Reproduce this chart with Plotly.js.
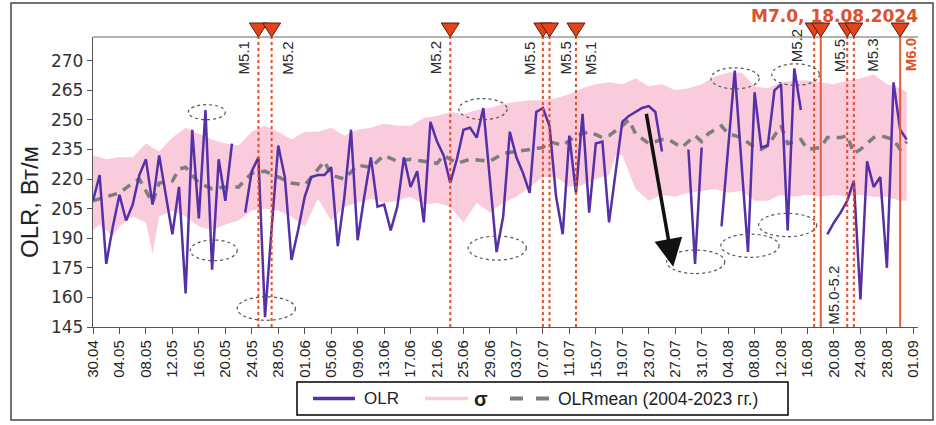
<!DOCTYPE html>
<html>
<head>
<meta charset="utf-8">
<script src="https://cdn.plot.ly/plotly-3.0.1.min.js"></script>
<style>html,body{margin:0;padding:0;background:#fff}#chart{width:936px;height:425px}</style>
</head>
<body>
<div id="chart"></div>
<script>
// ---------- DATA ----------
const tickLabels = ['30.04','04.05','08.05','12.05','16.05','20.05','24.05','28.05','01.06','05.06','09.06','13.06','17.06','21.06','25.06','29.06','03.07','07.07','11.07','15.07','19.07','23.07','27.07','31.07','04.08','08.08','12.08','16.08','20.08','24.08','28.08','01.09'];
const tickDays = [0,4,8,12,16,20,24,28,32,36,40,44,48,52,56,60,64,68,72,76,80,84,88,92,96,100,104,108,112,116,120,124];

// OLR daily values (day 0 = 30.04.2024); null = no data
const olrValues = [
 209,222,177,196,212,199,207,222,230,207,
 232,213,192,216,162,245,200,255,174,230,
 209,238,null,203,224,231,150,195,237,221,
 179,194,211,221,222,222,226,186,211,245,
 189,211,231,206,207,194,206,231,216,224,
 198,249,239,232,218,230,245,246,241,256,
 219,183,201,244,231,223,213,254,256,247,
 211,192,242,213,253,203,238,239,198,225,
 249,252,254,256,257,254,234,null,null,null,
 235,177,236,null,null,196,236,275,229,183,
 264,236,237,265,268,194,276,255,null,null,
 null,192,198,203,209,219,159,229,216,221,
 175,269,245,240];

// sigma band (upper / lower edges)
const sigmaUpperDays = [0,2,4,6,8,10,12,14,16,18,20,22,24,26,28,30,32,34,36,38,40,42,44,46,48,50,52,54,56,58,60,62,64,66,68,70,72,74,76,78,80,82,84,86,88,90,92,94,96,98,100,102,104,106,108,110,112,114,116,118,120,122,123];
const sigmaUpperValues = [232,230,231,231,238,234,241,246,243,240,238,237,244,247,244,240,244,244,246,242,245,246,248,247,247,251,252,254,253,255,256,258,259,260,260,261,263,266,268,269,268,271,267,268,265,266,268,272,274,274,267,266,269,270,270,269,268,270,271,273,268,266,264];
const sigmaLowerDays = [0,1,3,4,6,8,9,10,12,14,16,18,20,22,24,26,28,30,32,34,36,38,40,42,44,46,48,50,52,54,56,58,60,62,64,66,68,70,72,74,76,78,79,80,82,84,86,88,90,92,94,96,98,100,102,104,106,108,110,112,114,116,118,120,122,123];
const sigmaLowerValues = [194,197,191,196,201,198,182,201,204,201,196,194,197,199,204,205,204,201,196,210,199,206,208,210,208,209,211,207,208,206,198,208,203,208,211,216,221,221,216,217,220,222,232,232,215,209,212,211,213,214,215,213,214,209,209,212,211,212,211,212,211,212,211,211,209,209];

// OLR mean 2004-2023
const meanDays = [0,2,4,6,7,9,10,12,13,14,16,18,20,22,24,26,28,30,32,33,35,36,38,40,42,44,46,48,50,52,53,55,57,60,62,64,66,68,69,71,73,75,77,78,80,81,82,84,86,87,89,91,92,93,95,96,98,100,101,102,104,105,107,108,110,111,113,114,115,116,118,119,121,122,123];
const meanValues = [209,211,213,218,220,208,218,219,225,226,218,215,216,216,223,224,221,218,217,221,229,222,220,227,226,232,229,230,229,228,232,228,230,229,233,234,235,236,239,237,242,244,241,242,247,250,243,238,240,240,236,242,239,243,247,243,241,236,235,237,247,238,240,235,236,241,241,242,233,235,241,242,240,235,239];

// earthquakes
const quakeDays   = [25,27,54,68,69,73,109,110,114,115,122];
const quakeLabels = ['M5.1','M5.2','M5.2','M5.5','M5.5','M5.1','M5.2','M7.0','M5.5','M5.3','M6.0'];
const quakeMag    = [5.1,5.2,5.2,5.5,5.5,5.1,5.2,7.0,5.5,5.3,6.0];

// highlighted extremes (ellipses): [day0, day1, val0, val1]
const ellipses = [[14.4,20.0,250.1,257.7],[14.7,21.8,178.6,189.1],[21.8,30.6,148.4,160.3],[55.3,62.6,250.1,260.8],[56.7,65.5,178.9,191.1],[86.7,95.5,172.1,184.0],[94.9,103.7,180.3,192.1],[100.6,109.4,190.8,202.6],[93.4,100.7,265.7,276.4],[102.6,109.8,267.5,278.4]];

const legendNames = ['OLR', 'σ', 'OLRmean (2004-2023 гг.)'];

// ---------- STYLE / LAYOUT ----------
const olrDays = olrValues.map((_, i) => i);
const FONT = 'Liberation Sans, Arial, sans-serif';
const PURPLE = '#5530a6', PINK = '#f9cbdd', GRAY = '#7d7d7d';
const L = 93, T = 37, W = 825, H = 290;
const px2x = p => (p - L) / W;
const px2y = p => (T + H - p) / H;

const labelShift  = [-15,15,-15,-14,15,14,-17,0,-8,18,10];
const labelCenter = [58,58,58,58,58,58,46,0,56,55,55];

const bandX = sigmaUpperDays.concat(sigmaLowerDays.slice().reverse());
const bandY = sigmaUpperValues.concat(sigmaLowerValues.slice().reverse());

const traces = [
  {x: bandX, y: bandY, type:'scatter', mode:'lines', fill:'toself', fillcolor:PINK,
   line:{width:0, color:PINK}, hoverinfo:'skip'},
  {x: meanDays, y: meanValues, type:'scatter', mode:'lines', name:legendNames[2],
   line:{color:GRAY, width:3.5, dash:'9px,7px'}},
  {x: olrDays, y: olrValues, type:'scatter', mode:'lines', name:legendNames[0], connectgaps:false,
   line:{color:PURPLE, width:2.5}}
];

const shapes = [];
quakeDays.forEach((d, i) => {
  const strong = quakeMag[i] >= 6;
  shapes.push({type:'line', xref:'x', yref:'paper', x0:d, x1:d, y0:0, y1:1,
    line:{color: strong ? '#e0603c' : '#e0502a', width: 2, dash: strong ? 'solid' : 'dot'}});
});
ellipses.forEach(e => shapes.push({type:'circle', xref:'x', yref:'y', x0:e[0], x1:e[1], y0:e[2], y1:e[3],
  line:{color:'#555', width:1.2, dash:'dot'}}));
// top frame line of plot
shapes.push({type:'line', xref:'paper', yref:'paper', x0:0, x1:1, y0:1, y1:1, line:{color:'#666', width:1}});
// earthquake triangles
quakeDays.forEach(d => shapes.push({type:'path', xref:'x', yref:'paper', xsizemode:'pixel', ysizemode:'pixel',
  xanchor:d, yanchor:1, path:'M-9,14 L9,14 L0,0 Z', fillcolor:'#e3441b', line:{color:'#5a1a0a', width:1}}));
// outer frame
shapes.push({type:'rect', xref:'paper', yref:'paper', x0:px2x(11), x1:px2x(933), y0:px2y(420), y1:px2y(3),
  line:{color:'#444', width:1.5}, layer:'below'});
// legend box and samples
const LY = 398.5;
shapes.push({type:'rect', xref:'paper', yref:'paper', x0:px2x(297), x1:px2x(788), y0:px2y(415), y1:px2y(382),
  line:{color:'#000', width:1.5}, fillcolor:'#fff'});
shapes.push({type:'line', xref:'paper', yref:'paper', x0:px2x(313), x1:px2x(355), y0:px2y(LY), y1:px2y(LY),
  line:{color:PURPLE, width:3.5}});
shapes.push({type:'line', xref:'paper', yref:'paper', x0:px2x(425), x1:px2x(468), y0:px2y(LY), y1:px2y(LY),
  line:{color:PINK, width:3.5}});
shapes.push({type:'line', xref:'paper', yref:'paper', x0:px2x(510), x1:px2x(550), y0:px2y(LY), y1:px2y(LY),
  line:{color:GRAY, width:4, dash:'13px,13px'}});

const annotations = [];
quakeDays.forEach((d, i) => {
  if (quakeMag[i] >= 7) return;
  const strong = quakeMag[i] >= 6;
  annotations.push({x:d, y:px2y(labelCenter[i]), xref:'x', yref:'paper', text: strong ? '<b>'+quakeLabels[i]+'</b>' : quakeLabels[i],
    showarrow:false, textangle:-90, xanchor:'center', yanchor:'middle', xshift:labelShift[i],
    font:{family:FONT, size:15, color: strong ? '#e0502a' : '#2a2a2a'}});
});
annotations.push({x:110, y:px2y(16), xref:'x', yref:'paper', text:'<b>M7.0, 18.08.2024</b>', showarrow:false,
  xanchor:'center', yanchor:'middle', xshift:14, font:{family:'DejaVu Sans, sans-serif', size:17, color:'#e0502a'}});
annotations.push({x:110, y:px2y(295), xref:'x', yref:'paper', text:'M5.0-5.2', showarrow:false, textangle:-90,
  xanchor:'center', yanchor:'middle', xshift:12, font:{family:FONT, size:15, color:'#2a2a2a'}});
annotations.push({x:px2x(29), y:px2y(202), xref:'paper', yref:'paper', text:'OLR, Вт/м', showarrow:false, textangle:-90,
  xanchor:'center', yanchor:'middle', font:{family:FONT, size:24, color:'#222'}});
annotations.push({x:87.7, y:175.5, ax:83.6, ay:253.8, xref:'x', yref:'y', axref:'x', ayref:'y', text:'',
  showarrow:true, arrowhead:2, arrowsize:1.6, arrowwidth:3.5, arrowcolor:'#111'});
// legend texts
annotations.push({x:px2x(362), y:px2y(LY), xref:'paper', yref:'paper', text:legendNames[0], showarrow:false,
  xanchor:'left', yanchor:'middle', font:{family:FONT, size:17, color:'#222'}});
annotations.push({x:px2x(472), y:px2y(LY), xref:'paper', yref:'paper', text:'<b>'+legendNames[1]+'</b>', showarrow:false,
  xanchor:'left', yanchor:'middle', font:{family:FONT, size:20, color:'#222'}});
annotations.push({x:px2x(556), y:px2y(LY), xref:'paper', yref:'paper', text:legendNames[2], showarrow:false,
  xanchor:'left', yanchor:'middle', font:{family:FONT, size:17.5, color:'#222'}});

const layout = {
  width:936, height:425,
  margin:{l:L, r:936-L-W, t:T, b:425-T-H},
  paper_bgcolor:'#fff', plot_bgcolor:'#fff',
  showlegend:false,
  xaxis:{range:[0,124.7], tickmode:'array', tickvals:tickDays, ticktext:tickLabels, tickangle:-90,
    showgrid:false, zeroline:false, showline:true, linecolor:'#555', linewidth:1.2,
    ticks:'outside', ticklen:6, tickcolor:'#555', tickfont:{family:FONT, size:15, color:'#222'}},
  yaxis:{range:[145,292], tickmode:'array', tickvals:[145,160,175,190,205,220,235,250,265,280],
    ticktext:['145','160','175','190','205','220','235','250','265','270'],
    showgrid:false, zeroline:false, showline:true, linecolor:'#555', linewidth:1.2,
    ticks:'outside', ticklen:5, tickcolor:'#555', tickfont:{family:'DejaVu Sans, sans-serif', size:17, color:'#333'}},
  shapes: shapes,
  annotations: annotations
};

Plotly.newPlot('chart', traces, layout, {staticPlot:true, displayModeBar:false});
</script>
</body>
</html>
